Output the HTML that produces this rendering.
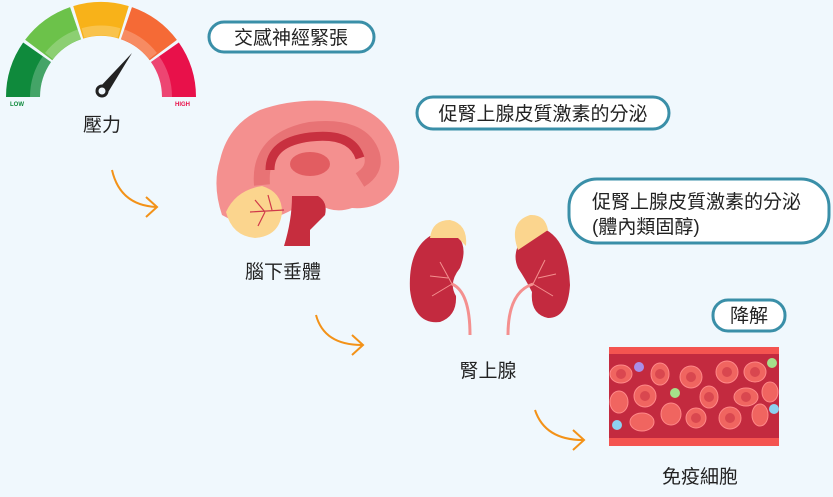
<!DOCTYPE html>
<html><head><meta charset="utf-8"><style>
html,body{margin:0;padding:0;background:#f0f8fd;}
svg{display:block;font-family:"Liberation Sans","Noto Sans CJK TC",sans-serif;}
</style></head><body>
<svg width="833" height="497" viewBox="0 0 833 497" xmlns="http://www.w3.org/2000/svg">
<rect width="833" height="497" fill="#f0f8fd"/>
<!-- gauge -->
<g fill="none" stroke-width="34">
<path d="M23 97 A78 78 0 0 1 37.1 52.3" stroke="#0f8a3c"/>
<path d="M38.7 50 A78 78 0 0 1 75.6 23.2" stroke="#6cc24a"/>
<path d="M78.2 22.4 A78 78 0 0 1 123.8 22.4" stroke="#f8b219"/>
<path d="M126.4 23.2 A78 78 0 0 1 163.3 50.1" stroke="#f56a36"/>
<path d="M164.9 52.3 A78 78 0 0 1 179 97" stroke="#e8114a"/>
</g>
<g fill="none" stroke-width="10" opacity="0.22" stroke="#fff">
<path d="M35 97 A66 66 0 0 1 47 59"/><path d="M49 56 A66 66 0 0 1 80 34"/><path d="M83 33 A66 66 0 0 1 119 33"/><path d="M122 34 A66 66 0 0 1 153 56"/><path d="M155 59 A66 66 0 0 1 167 97"/>
</g>
<polygon points="99,88 107,94 132,53" fill="#222"/>
<circle cx="102" cy="91" r="5" fill="#f0f8fd" stroke="#222" stroke-width="3"/>
<text x="10" y="106" font-size="6" font-weight="bold" fill="#0f8a3c">LOW</text>
<text x="175" y="106" font-size="6" font-weight="bold" fill="#e8114a">HIGH</text>
<text x="102" y="131" font-size="19" text-anchor="middle" fill="#222">壓力</text>
<!-- pills -->
<g fill="#fff" stroke="#3a8fa8" stroke-width="3">
<rect x="209" y="22" width="165" height="30" rx="15"/>
<rect x="417" y="97" width="252" height="32" rx="16"/>
<rect x="569" y="179" width="260" height="64" rx="28"/>
<rect x="713" y="300" width="72" height="31" rx="15"/>
</g>
<g font-size="19" fill="#222" text-anchor="middle">
<text x="291" y="44">交感神經緊張</text>
<text x="543" y="120">促腎上腺皮質激素的分泌</text>
<text x="749" y="322">降解</text>
</g>
<text x="592" y="208" font-size="19" fill="#222">促腎上腺皮質激素的分泌</text>
<text x="592" y="233" font-size="19" fill="#222">(體內類固醇)</text>
<!-- arrows -->
<g fill="none" stroke="#f39218" stroke-width="2">
<path d="M112 170 Q120 205 156 207"/><path d="M146 197 L157 207 L146 217"/>
<path d="M316 315 Q324 345 362 345"/><path d="M352 335 L363 345 L352 355"/>
<path d="M535 410 Q545 440 583 440"/><path d="M573 430 L584 440 L573 450"/>
</g>
<!-- brain -->
<path d="M222 215 Q212 185 220 160 Q228 125 260 110 Q300 96 345 103 Q385 112 396 145 Q404 175 392 192 Q378 210 352 208 Q335 214 320 205 L300 205 Q270 225 235 222 Z" fill="#f4908f"/>
<path d="M262 185 Q258 140 310 130 Q362 124 372 155 Q376 170 360 180" fill="none" stroke="#e87375" stroke-width="16"/>
<path d="M270 170 Q270 142 310 137 Q352 132 360 158" fill="none" stroke="#c8303f" stroke-width="9"/>
<ellipse cx="310" cy="164" rx="20" ry="12" fill="#e25d61"/>
<path d="M292 196 L318 196 Q328 202 325 215 Q315 225 310 230 L310 246 L284 246 Q292 220 292 196Z" fill="#c62d3e"/>
<path d="M226 212 Q236 190 262 186 Q282 192 282 212 Q280 236 255 238 Q232 236 226 212Z" fill="#fbd58e"/>
<g stroke="#d0394a" stroke-width="1.2" fill="none"><path d="M284 210 L250 212 M265 212 L255 200 M265 212 L258 226 M272 210 L268 195"/></g>
<text x="283" y="278" font-size="19" text-anchor="middle" fill="#222">腦下垂體</text>
<!-- kidneys -->
<path d="M430 236 Q408 250 410 290 Q414 325 440 322 Q457 316 456 296 Q448 283 460 268 Q468 248 458 236 Z" fill="#c32a3f"/>
<path d="M430 238 Q432 220 450 220 Q468 224 466 246 L458 238 Z" fill="#fbd58e"/>
<path d="M542 228 Q568 238 570 285 Q568 318 548 318 Q530 314 532 292 Q526 280 518 268 Q510 250 528 232 Z" fill="#c32a3f"/>
<path d="M518 250 Q508 222 530 215 Q545 214 548 230 Z" fill="#fbd58e"/>
<g stroke="#f4908f" stroke-width="3" fill="none"><path d="M452 284 Q470 292 470 335"/><path d="M533 284 Q508 292 508 335"/></g>
<g stroke="#f4908f" stroke-width="1" fill="none"><path d="M452 284 L440 262 M452 284 L432 296 M448 278 L430 276 M533 284 L545 260 M533 284 L553 296 M538 278 L556 274"/></g>
<text x="488" y="377" font-size="19" text-anchor="middle" fill="#222">腎上腺</text>
<!-- vessel -->
<rect x="609" y="347" width="170" height="99" fill="#f45450"/>
<rect x="609" y="354" width="170" height="84" fill="#c32a3f"/>
<g fill="#f06560" stroke="#f88" stroke-width="1">
<ellipse cx="621" cy="374" rx="11" ry="9"/><ellipse cx="660" cy="374" rx="9" ry="11"/><ellipse cx="691" cy="377" rx="11" ry="11"/><ellipse cx="727" cy="372" rx="11" ry="11"/><ellipse cx="755" cy="372" rx="11" ry="10"/>
<ellipse cx="619" cy="402" rx="9" ry="11"/><ellipse cx="645" cy="396" rx="11" ry="11"/><ellipse cx="709" cy="397" rx="9" ry="11"/><ellipse cx="746" cy="397" rx="12" ry="9"/><ellipse cx="770" cy="392" rx="8" ry="10"/>
<ellipse cx="671" cy="414" rx="10" ry="11"/><ellipse cx="696" cy="418" rx="10" ry="10"/><ellipse cx="730" cy="418" rx="11" ry="11"/><ellipse cx="760" cy="415" rx="8" ry="11"/><ellipse cx="642" cy="422" rx="12" ry="9"/>
</g>
<g fill="#c32a3f" opacity="0.5">
<circle cx="621" cy="374" r="5"/><circle cx="660" cy="374" r="5"/><circle cx="691" cy="377" r="5"/><circle cx="727" cy="372" r="5"/><circle cx="755" cy="372" r="5"/><circle cx="645" cy="396" r="5"/><circle cx="709" cy="397" r="5"/><circle cx="746" cy="397" r="5"/><circle cx="696" cy="418" r="5"/><circle cx="730" cy="418" r="5"/>
</g>
<circle cx="639" cy="367" r="5" fill="#a98ee8"/>
<circle cx="675" cy="393" r="5" fill="#a5e08a"/>
<circle cx="772" cy="363" r="5" fill="#a5e08a"/>
<circle cx="774" cy="409" r="5" fill="#8dd2f0"/>
<circle cx="617" cy="425" r="5" fill="#8dd2f0"/>
<text x="700" y="483" font-size="19" text-anchor="middle" fill="#222">免疫細胞</text>
</svg>
</body></html>
